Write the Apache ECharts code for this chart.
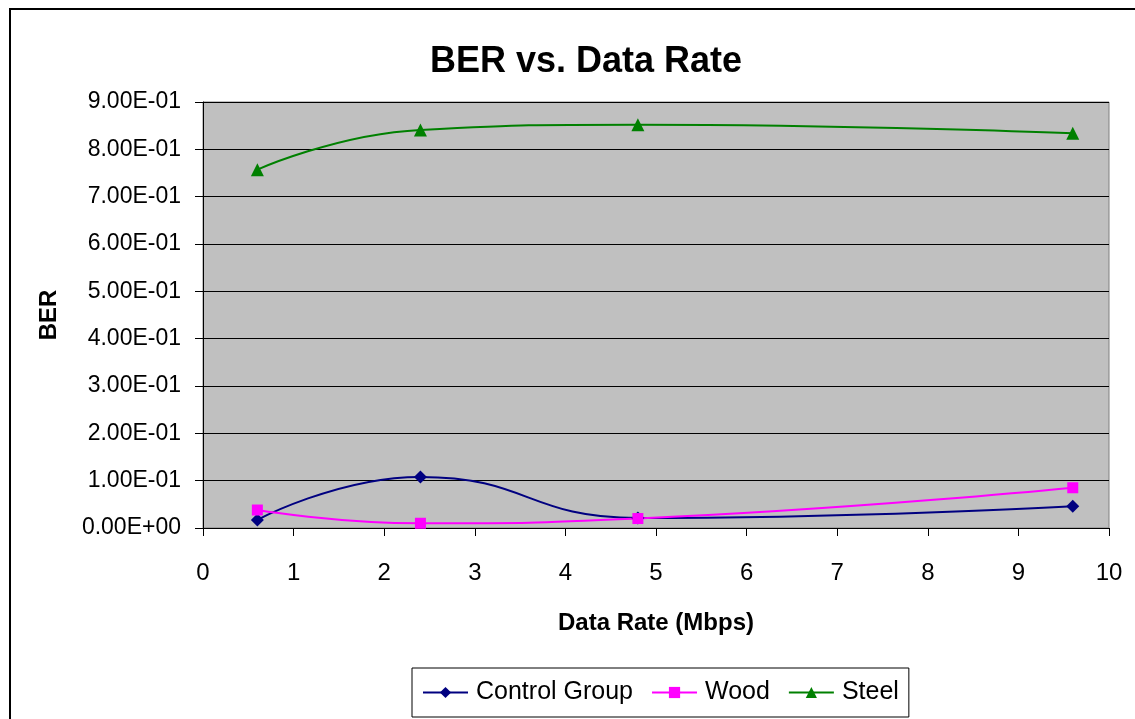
<!DOCTYPE html>
<html><head><meta charset="utf-8">
<script src="https://cdn.jsdelivr.net/npm/echarts@6/dist/echarts.min.js"></script>
<style>html,body{margin:0;padding:0;background:#fff}#c{width:1135px;height:719px}</style>
</head><body><div id="c"></div>
<script>
const dataRates = [0.6, 2.4, 4.8, 9.6];
const controlGroup = [0.017, 0.108, 0.021, 0.046];
const wood = [0.038, 0.010, 0.020, 0.085];
const steel = [0.757, 0.841, 0.852, 0.834];
const xTicks = [0, 1, 2, 3, 4, 5, 6, 7, 8, 9, 10];

function pairs(ys){ return dataRates.map((x,i)=>[x, ys[i]]); }
function sci(v){
  if (v === 0) return '0.00E+00';
  const e = Math.floor(Math.log10(Math.abs(v)) + 1e-9);
  const m = v / Math.pow(10, e);
  const es = (e < 0 ? '-' : '+') + String(Math.abs(e)).padStart(2, '0');
  return m.toFixed(2) + 'E' + es;
}
const font = 'Liberation Sans, Arial, sans-serif';
const chart = echarts.init(document.getElementById('c'));
chart.setOption({
  backgroundColor: '#fff',
  animation: false,
  graphic: [{type:'rect', shape:{x:10, y:9, width:1300, height:900}, style:{fill:'none', stroke:'#000', lineWidth:2}, silent:true}],
  title: {text:'BER vs. Data Rate', left:425, top:39, textStyle:{fontFamily:font, fontSize:36, fontWeight:'bold', color:'#000'}},
  grid: {left:203, top:102, width:906, height:426, show:true, backgroundColor:'#C0C0C0', borderColor:'#808080', borderWidth:1},
  xAxis: {
    type:'value', min:xTicks[0], max:xTicks[xTicks.length-1], interval:1,
    name:'Data Rate (Mbps)', nameLocation:'middle', nameGap:83,
    nameTextStyle:{fontFamily:font, fontSize:24, fontWeight:'bold', color:'#000'},
    axisLine:{show:true, onZero:false, lineStyle:{color:'#000', width:1}},
    axisTick:{show:true, inside:false, length:8, lineStyle:{color:'#000'}},
    axisLabel:{fontFamily:font, fontSize:24, color:'#000', margin:33},
    splitLine:{show:false}
  },
  yAxis: {
    type:'value', min:0, max:0.9, interval:0.1,
    name:'BER', nameLocation:'middle', nameGap:142, nameRotate:90,
    nameTextStyle:{fontFamily:font, fontSize:24, fontWeight:'bold', color:'#000'},
    axisLine:{show:true, lineStyle:{color:'#000', width:1}},
    axisTick:{show:true, inside:false, length:8, lineStyle:{color:'#000'}},
    axisLabel:{fontFamily:font, fontSize:23, color:'#000', margin:22, formatter:sci},
    splitLine:{show:true, lineStyle:{color:'#000', width:1}}
  },
  legend: {
    left:412, top:668, orient:'horizontal',
    itemWidth:45, itemHeight:14, itemGap:18,
    padding:[12,10,12,10],
    borderColor:'#000', borderWidth:1, backgroundColor:'#fff',
    textStyle:{fontFamily:font, fontSize:25, color:'#000', padding:[0,0,0,3]},
    data:['Control Group','Wood','Steel']
  },
  series: [
    {name:'Control Group', type:'line', data:pairs(controlGroup), smooth:0.5, symbol:'diamond', symbolSize:13,
     lineStyle:{color:'#000080', width:2}, itemStyle:{color:'#000080'}},
    {name:'Wood', type:'line', data:pairs(wood), smooth:0.5, symbol:'rect', symbolSize:11,
     lineStyle:{color:'#FF00FF', width:2}, itemStyle:{color:'#FF00FF'}},
    {name:'Steel', type:'line', data:pairs(steel), smooth:0.5, symbol:'triangle', symbolSize:13,
     lineStyle:{color:'#008000', width:2}, itemStyle:{color:'#008000'}}
  ]
});
</script></body></html>
